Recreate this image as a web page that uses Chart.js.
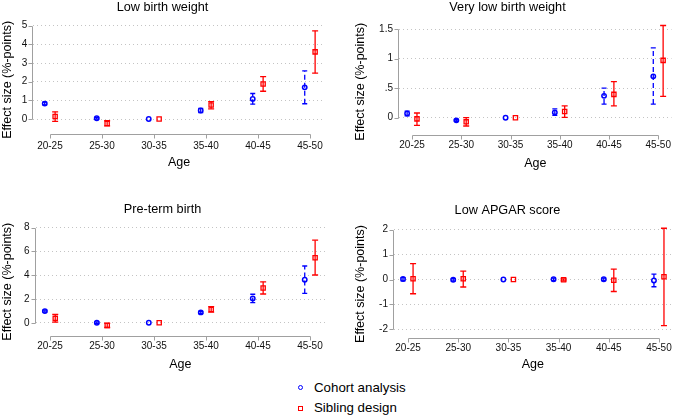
<!DOCTYPE html>
<html>
<head>
<meta charset="utf-8">
<script src="https://cdn.jsdelivr.net/npm/chart.js@4.4.1/dist/chart.umd.min.js"></script>
<style>
body { margin: 0; background: #fff; font-family: "Liberation Sans", Arial, sans-serif; }
#wrap { position: relative; width: 677px; height: 418px; overflow: hidden; }
canvas { position: absolute; }
.mk { position: absolute; width: 3px; height: 3px; }
.lt { position: absolute; font-size: 13.3px; line-height: 16px; color: #000; white-space: nowrap; }
</style>
</head>
<body>
<div id="wrap">
	<canvas id="c_lbw" width="338" height="190" style="left:0;top:0"></canvas>
	<canvas id="c_vlbw" width="339" height="190" style="left:338px;top:0"></canvas>
	<canvas id="c_ptb" width="338" height="190" style="left:0;top:190px"></canvas>
	<canvas id="c_apgar" width="339" height="190" style="left:338px;top:190px"></canvas>

	<span class="mk" style="left:298px;top:385px;border:1.5px solid #0000ff;border-radius:50%"></span>
	<span class="lt" style="left:314px;top:380px">Cohort analysis</span>
	<span class="mk" style="left:298px;top:406px;border:1.5px solid #ff0000"></span>
	<span class="lt" style="left:314px;top:400px">Sibling design</span>
</div>
<script>
const ages = ['20-25', '25-30', '30-35', '35-40', '40-45', '45-50'];

// low birth weight
const lbwCohort   = [0.83, 0.04, 0, 0.46, 1.08, 1.70];
const lbwCohortLo = [0.76, 0.00, 0, 0.34, 0.80, 0.82];
const lbwCohortHi = [0.91, 0.09, 0, 0.57, 1.37, 2.58];
const lbwSib      = [0.14, -0.24, 0, 0.75, 1.88, 3.60];
const lbwSibLo    = [-0.12, -0.37, 0, 0.55, 1.49, 2.46];
const lbwSibHi    = [0.39, -0.09, 0, 0.93, 2.27, 4.73];
const lbwTicks    = [0, 1, 2, 3, 4, 5];
const lbwLabels   = ['0', '1', '2', '3', '4', '5'];

// very low birth weight
const vlbwCohort   = [0.07, -0.045, 0, 0.09, 0.37, 0.70];
const vlbwCohortLo = [0.03, -0.06, 0, 0.04, 0.23, 0.23];
const vlbwCohortHi = [0.11, -0.03, 0, 0.15, 0.50, 1.18];
const vlbwSib      = [-0.02, -0.07, 0, 0.105, 0.395, 0.97];
const vlbwSibLo    = [-0.13, -0.14, 0, 0.005, 0.20, 0.36];
const vlbwSibHi    = [0.08, 0.00, 0, 0.20, 0.61, 1.56];
const vlbwTicks    = [0, 0.5, 1, 1.5];
const vlbwLabels   = ['0', '.5', '1', '1.5'];

// pre-term birth
const ptbCohort   = [0.98, 0.00, 0, 0.87, 2.05, 3.62];
const ptbCohortLo = [0.90, -0.07, 0, 0.78, 1.70, 2.47];
const ptbCohortHi = [1.06, 0.07, 0, 0.96, 2.40, 4.78];
const ptbSib      = [0.37, -0.22, 0, 1.12, 2.93, 5.47];
const ptbSibLo    = [0.05, -0.40, 0, 0.90, 2.42, 4.02];
const ptbSibHi    = [0.70, -0.05, 0, 1.35, 3.45, 6.95];
const ptbTicks    = [0, 2, 4, 6, 8];
const ptbLabels   = ['0', '2', '4', '6', '8'];

// low APGAR score
const apgarCohort   = [0.02, -0.01, 0, 0.01, 0.01, -0.04];
const apgarCohortLo = [-0.05, -0.06, 0, -0.04, -0.04, -0.29];
const apgarCohortHi = [0.08, 0.04, 0, 0.06, 0.06, 0.22];
const apgarSib      = [0.03, 0.03, 0, -0.01, -0.03, 0.11];
const apgarSibLo    = [-0.57, -0.30, 0, -0.05, -0.48, -1.85];
const apgarSibHi    = [0.64, 0.34, 0, 0.03, 0.42, 2.06];
const apgarTicks    = [-2, -1, 0, 1, 2];
const apgarLabels   = ['-2', '-1', '0', '1', '2'];

const FONT = '"Liberation Sans", Arial, sans-serif';
Chart.defaults.font.family = FONT;
Chart.defaults.color = '#000';

// stata-like axis lines: only between first and last tick, with short tick marks
const stataAxes = {
	id: 'stataAxes',
	afterDraw(chart) {
		const {ctx, chartArea: a, scales: {x, y}} = chart;
		ctx.save();
		ctx.strokeStyle = '#a0a0a0';
		ctx.lineWidth = 1;
		ctx.beginPath();
		const x0 = Math.round(a.left) - 0.5;
		const yt = y.ticks.map(t => Math.round(y.getPixelForValue(t.value)) + 0.5);
		ctx.moveTo(x0, Math.min(...yt));
		ctx.lineTo(x0, Math.max(...yt));
		yt.forEach(py => { ctx.moveTo(x0 - 4, py); ctx.lineTo(x0, py); });
		const y0 = Math.round(a.bottom) + 0.5;
		const xt = x.ticks.map(t => Math.round(x.getPixelForValue(t.value)) + 0.5);
		ctx.moveTo(xt[0], y0);
		ctx.lineTo(xt[xt.length - 1], y0);
		xt.forEach(px => { ctx.moveTo(px, y0); ctx.lineTo(px, y0 + 4); });
		ctx.stroke();
		ctx.restore();
	}
};

// capped confidence intervals
const errorBars = {
	id: 'errorBars',
	beforeDatasetsDraw(chart) {
		const {ctx, scales: {x, y}} = chart;
		chart.data.datasets.forEach(ds => {
			ctx.save();
			ctx.strokeStyle = ds.borderColor;
			ctx.lineWidth = 1.3;
			ds.data.forEach(p => {
				if (p.lo === p.hi) return;
				const px = x.getPixelForValue(p.x);
				const y1 = y.getPixelForValue(p.lo);
				const y2 = y.getPixelForValue(p.hi);
				ctx.setLineDash(ds.ciDash);
				ctx.beginPath();
				ctx.moveTo(px, y1);
				ctx.lineTo(px, y2);
				ctx.stroke();
				ctx.setLineDash([]);
				ctx.beginPath();
				ctx.moveTo(px - ds.capHalf, y1); ctx.lineTo(px + ds.capHalf, y1);
				ctx.moveTo(px - ds.capHalf, y2); ctx.lineTo(px + ds.capHalf, y2);
				ctx.stroke();
			});
			ctx.restore();
		});
	}
};

function points(vals, lo, hi, shift) {
	return ages.map((a, i) => ({x: i + shift, y: vals[i], lo: lo[i], hi: hi[i]}));
}

function makePanel(id, title, cohort, cohortLo, cohortHi, sib, sibLo, sibHi, ticks, labels, lay) {
	return new Chart(document.getElementById(id), {
		type: 'scatter',
		data: {
			datasets: [{
				label: 'Cohort analysis',
				data: points(cohort, cohortLo, cohortHi, -0.1),
				borderColor: '#0000ff',
				backgroundColor: 'rgba(0,0,0,0)',
				pointStyle: 'circle',
				pointRadius: 2.2,
				borderWidth: 1.5,
				ciDash: [5, 3],
				capHalf: 2.5,
				clip: false
			}, {
				label: 'Sibling design',
				data: points(sib, sibLo, sibHi, 0.1),
				borderColor: '#ff0000',
				backgroundColor: 'rgba(0,0,0,0)',
				pointStyle: 'rect',
				pointRadius: 3,
				borderWidth: 1.3,
				ciDash: [],
				capHalf: 3,
				clip: false
			}]
		},
		options: {
			responsive: false,
			animation: false,
			events: [],
			layout: {padding: {left: 0, right: lay.right, top: 0, bottom: 0}},
			plugins: {
				legend: {display: false},
				tooltip: {enabled: false},
				title: {
					display: true, text: title, color: '#000',
					font: {size: 12.7, weight: 'normal'},
					padding: {top: lay.tTop, bottom: lay.tBottom}
				}
			},
			scales: {
				x: {
					type: 'linear', min: lay.xMin, max: lay.xMax,
					afterBuildTicks: s => { s.ticks = ages.map((a, i) => ({value: i})); },
					afterFit: s => { s.height = lay.xHeight; s.paddingLeft = 0; s.paddingRight = 0; },
					grid: {display: false, drawTicks: false},
					border: {display: false},
					ticks: {
						callback: v => ages[v], padding: lay.xTickPad, color: '#111',
						font: {size: 10}, maxRotation: 0, autoSkip: false
					},
					title: {display: true, text: 'Age', color: '#000', font: {size: 12.5}, padding: {top: 0, bottom: lay.xTitlePad}}
				},
				y: {
					min: lay.yMin, max: lay.yMax,
					afterBuildTicks: s => { s.ticks = ticks.map(v => ({value: v})); },
					afterFit: s => { s.width = lay.yWidth; s.paddingTop = 0; s.paddingBottom = 0; },
					grid: {color: '#c4c4c4', lineWidth: 1, drawTicks: false},
					border: {display: false, dash: [1, 3]},
					ticks: {callback: (v, i) => labels[i], padding: 6, color: '#111', font: {size: 10}},
					title: {display: true, text: 'Effect size (%-points)', color: '#000', font: {size: 12.5}, padding: {top: lay.yTitlePad, bottom: 0}}
				}
			}
		},
		plugins: [errorBars, stataAxes]
	});
}

makePanel('c_lbw', 'Low birth weight', lbwCohort, lbwCohortLo, lbwCohortHi, lbwSib, lbwSibLo, lbwSibHi, lbwTicks, lbwLabels,
	{xMin: -0.32, xMax: 5.29, yMin: -0.8, yMax: 5, yWidth: 33.3, yTitlePad: 0.5, tTop: 0.2, tBottom: 10.3, xHeight: 56, xTickPad: 6, xTitlePad: 19.5, right: 13});
makePanel('c_vlbw', 'Very low birth weight', vlbwCohort, vlbwCohortLo, vlbwCohortHi, vlbwSib, vlbwSibLo, vlbwSibHi, vlbwTicks, vlbwLabels,
	{xMin: -0.265, xMax: 5.27, yMin: -0.284, yMax: 1.5, yWidth: 61, yTitlePad: 14.8, tTop: 0, tBottom: 13.8, xHeight: 55.5, xTickPad: 5.2, xTitlePad: 19.2, right: 0});
makePanel('c_ptb', 'Pre-term birth', ptbCohort, ptbCohortLo, ptbCohortHi, ptbSib, ptbSibLo, ptbSibHi, ptbTicks, ptbLabels,
	{xMin: -0.28, xMax: 5.29, yMin: -1.09, yMax: 8, yWidth: 35.5, yTitlePad: 0.5, tTop: 11.4, tBottom: 11.1, xHeight: 44.3, xTickPad: 5, xTitlePad: 7.5, right: 13});
makePanel('c_apgar', 'Low APGAR score', apgarCohort, apgarCohortLo, apgarCohortHi, apgarSib, apgarSibLo, apgarSibHi, apgarTicks, apgarLabels,
	{xMin: -0.28, xMax: 5.25, yMin: -2.36, yMax: 2, yWidth: 56, yTitlePad: 14.8, tTop: 12.4, tBottom: 12.1, xHeight: 41.7, xTickPad: 4, xTitlePad: 7.5, right: 0});
</script>
</body>
</html>
